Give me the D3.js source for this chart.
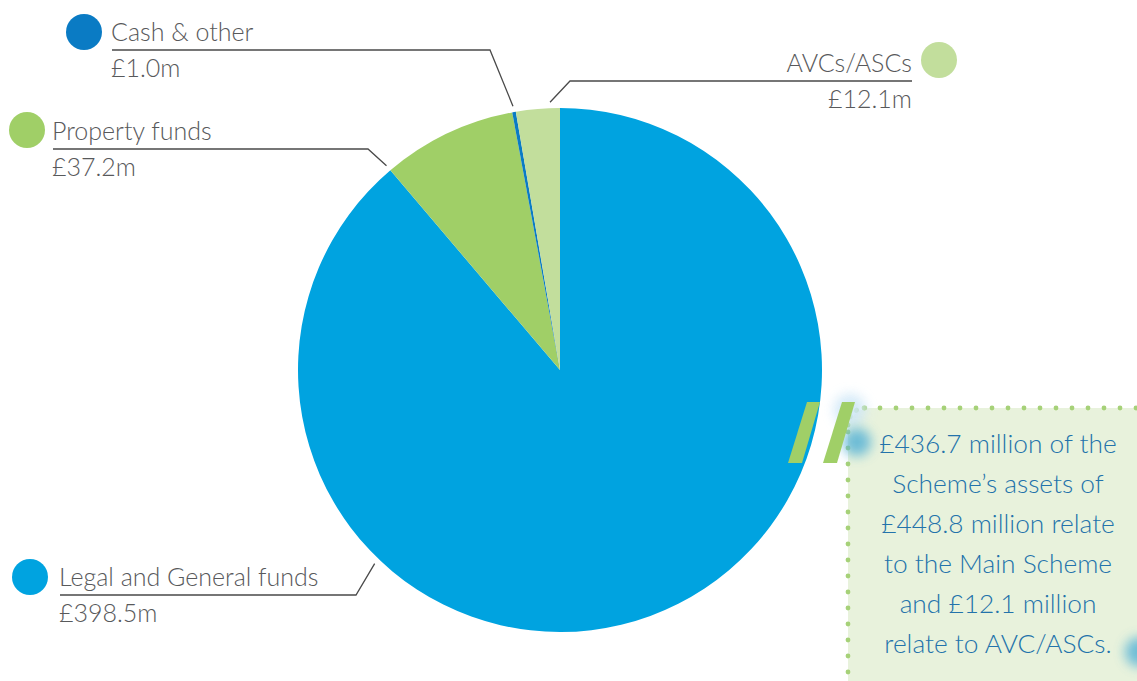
<!DOCTYPE html>
<html>
<head>
<meta charset="utf-8">
<script src="https://cdn.jsdelivr.net/npm/d3@7"></script>
<style>
  html, body { margin: 0; padding: 0; background: #fff; }
  svg { display: block; }
</style>
</head>
<body>
<svg id="chart"></svg>
<script>
const width = 1137;
const height = 681;

// data
const categories = ["Legal and General funds", "Property funds", "Cash & other", "AVCs/ASCs"];
const values = [398.5, 37.2, 1.0, 12.1];
const colors = ["#00a3e0", "#a0cf67", "#0a7bc4", "#c2de9c"];
const calloutLines = [
  "£436.7 million of the",
  "Scheme’s assets of",
  "£448.8 million relate",
  "to the Main Scheme",
  "and £12.1 million",
  "relate to AVC/ASCs."
];

// label placement: text anchor, underline end and where along the slice the pointer lands
const labelLayout = [
  { x: 59, y: 586, dotX: 30, dotY: 577, anchor: "start", lineEnd: 356, at: 0.70 },
  { x: 52, y: 140, dotX: 27, dotY: 130, anchor: "start", lineEnd: 368, at: 0.0 },
  { x: 111, y: 41, dotX: 84, dotY: 32, anchor: "start", lineEnd: 490, at: 0.5 },
  { x: 912, y: 72, dotX: 939, dotY: 60, anchor: "end", lineEnd: 570, at: 0.78 }
];

const fmt = v => `£${d3.format(".1f")(v)}m`;

const cx = 560, cy = 370, radius = 262;

const svg = d3.select("#chart")
    .attr("width", width)
    .attr("height", height)
    .attr("viewBox", [0, 0, width, height])
    .style("font-family", "Lato, 'Open Sans', sans-serif");

const defs = svg.append("defs");
defs.append("filter")
    .attr("id", "glow")
    .attr("x", "-100%").attr("y", "-100%")
    .attr("width", "300%").attr("height", "300%")
  .append("feGaussianBlur")
    .attr("stdDeviation", 6);

const pie = d3.pie().sort(null).value(d => d);
const arcs = pie(values);
const arc = d3.arc().innerRadius(0).outerRadius(radius);

const g = svg.append("g").attr("transform", `translate(${cx},${cy})`);

g.selectAll("path")
  .data(arcs)
  .join("path")
    .attr("d", arc)
    .attr("fill", (d, i) => colors[i]);

// leaders + labels
const labels = svg.append("g");

arcs.forEach((d, i) => {
  const L = labelLayout[i];
  const a = d.startAngle + (d.endAngle - d.startAngle) * L.at;
  const r = radius + 6;
  const px = cx + r * Math.sin(a);
  const py = cy - r * Math.cos(a);
  const lineY = L.y + 9;
  const startX = L.anchor === "start" ? L.x + 1 : L.x;

  labels.append("path")
      .attr("d", d3.line()([[startX, lineY], [L.lineEnd, lineY], [px, py]]))
      .attr("fill", "none")
      .attr("stroke", "#4a4a4a")
      .attr("stroke-width", 1.3);

  labels.append("circle")
      .attr("cx", L.dotX)
      .attr("cy", L.dotY)
      .attr("r", 18)
      .attr("fill", colors[i]);

  labels.append("text")
      .attr("x", L.x)
      .attr("y", L.y)
      .attr("text-anchor", L.anchor)
      .attr("fill", "#58595b")
      .style("font-size", "25px")
      .style("font-weight", 300)
      .text(categories[i]);

  labels.append("text")
      .attr("x", L.x)
      .attr("y", L.y + 36)
      .attr("text-anchor", L.anchor)
      .attr("fill", "#58595b")
      .style("font-size", "25px")
      .style("font-weight", 300)
      .text(fmt(values[i]));
});

// callout box
const box = svg.append("g");
const bx = 848, by = 408;

box.append("rect")
    .attr("x", bx)
    .attr("y", by)
    .attr("width", width - bx + 30)
    .attr("height", height - by + 30)
    .attr("rx", 22)
    .attr("fill", "#e8f2dc");

// dotted border along top and left
const dotsTop = d3.range(bx + 16, width + 8, 16);
const dotsLeft = d3.range(by + 24, height + 8, 16);
box.selectAll(".dt")
  .data(dotsTop)
  .join("circle")
    .attr("cx", d => d)
    .attr("cy", by)
    .attr("r", 2.4)
    .attr("fill", "#a6d178");
box.selectAll(".dl")
  .data(dotsLeft)
  .join("circle")
    .attr("cx", bx)
    .attr("cy", d => d)
    .attr("r", 2.4)
    .attr("fill", "#a6d178");
box.append("path")
    .attr("d", d3.arc().innerRadius(17).outerRadius(17).startAngle(-Math.PI / 2).endAngle(0)({}))
    .attr("transform", `translate(${bx + 17},${by + 17})`)
    .attr("fill", "none")
    .attr("stroke", "#a6d178")
    .attr("stroke-width", 4.8)
    .attr("stroke-linecap", "round")
    .attr("stroke-dasharray", "0.1 8.8");

// glow blobs
box.append("circle").attr("cx", 850).attr("cy", 410).attr("r", 16)
    .attr("fill", "#cfe7f7").attr("opacity", 0.9).attr("filter", "url(#glow)");
box.append("circle").attr("cx", 857).attr("cy", 442).attr("r", 14)
    .attr("fill", "#5ab4d6").attr("opacity", 0.85).attr("filter", "url(#glow)");
box.append("circle").attr("cx", 1140).attr("cy", 652).attr("r", 15)
    .attr("fill", "#5ab4d6").attr("opacity", 0.85).attr("filter", "url(#glow)");

// quote marks
const quote = [[807, 402], [820, 402], [802, 463], [788, 463]];
[0, 35].forEach(dx => {
  box.append("path")
      .attr("d", d3.line()(quote.map(p => [p[0] + dx, p[1]])) + "Z")
      .attr("fill", "#a0cf67");
});

box.append("g")
  .selectAll("text")
  .data(calloutLines)
  .join("text")
    .attr("x", 998)
    .attr("y", (d, i) => 453 + i * 40)
    .attr("text-anchor", "middle")
    .attr("fill", "#2373ab")
    .style("font-size", "26.3px")
    .style("font-weight", 300)
    .text(d => d);
</script>
</body>
</html>
